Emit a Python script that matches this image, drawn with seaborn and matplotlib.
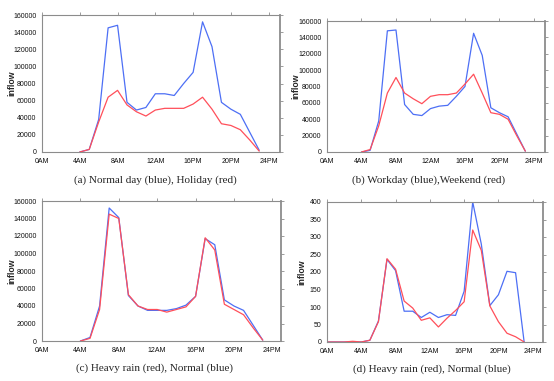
import numpy as np
import pandas as pd
import matplotlib
matplotlib.use("Agg")
import matplotlib.pyplot as plt
import seaborn as sns

hours_abc = list(range(4, 24))
hours_d = list(range(0, 24))

a_blue = [0, 3000, 38000, 145000, 148000, 58000, 49000, 52000, 68000, 68000,
          66000, 80000, 93000, 152000, 123000, 58000, 50000, 44000, 23000, 2000]
a_red = [0, 3000, 35000, 64000, 72000, 55000, 47000, 42000, 49000, 51000,
         51000, 51000, 56000, 64000, 50000, 33000, 31000, 26000, 14000, 1000]

b_blue = [0, 2000, 38000, 148000, 149000, 58000, 46000, 44500, 53000, 56000,
          57000, 68000, 80000, 145000, 118000, 54000, 48000, 43000, 22000, 1000]
b_red = [0, 3000, 32000, 72000, 91000, 72000, 65000, 59000, 68000, 70000,
         70000, 72000, 83000, 95000, 72000, 48000, 46000, 40000, 20000, 1000]

c_blue = [0, 4000, 40000, 152000, 141000, 52000, 40000, 35000, 35000, 35000,
          37000, 41000, 51000, 117000, 110000, 47000, 40000, 35000, 18000, 1000]
c_red = [0, 3000, 36000, 145000, 140000, 53000, 40000, 36000, 36000, 33000,
         36000, 39000, 51000, 118000, 104000, 42000, 36000, 30000, 15000, 1000]

d_blue = [0, 0, 0, 0, 0, 5, 60, 236, 204, 88, 88, 70,
          85, 70, 78, 76, 145, 400, 280, 104, 135, 202, 198, 0]
d_red = [0, 0, 0, 2, 0, 5, 58, 238, 208, 117, 97, 62,
         69, 43, 68, 90, 115, 320, 262, 103, 58, 25, 15, 0]

xtick_pos = [0, 4, 8, 12, 16, 20, 24]
xtick_labels = ["0AM", "4AM", "8AM", "12AM", "16PM", "20PM", "24PM"]

captions = ["(a) Normal day (blue), Holiday (red)",
            "(b) Workday (blue),Weekend (red)",
            "(c) Heavy rain (red), Normal (blue)",
            "(d) Heavy rain (red), Normal (blue)"]

sns.set_style("white")
plt.rcParams['font.family'] = ['Liberation Sans', 'DejaVu Sans']

W, H = 554, 381
fig = plt.figure(figsize=(W / 100, H / 100), dpi=100)

BLUE = "#4d6ff5"
RED = "#ff4f5a"
GRAY = "#8c8c8c"

# (left, right, top, bottom) in pixels
boxes = [(42, 280, 15, 152), (327, 545, 21, 152),
         (42, 281, 201, 341), (327, 543, 202, 342)]
xmax = [25.2, 25.28, 24.9, 25.2]
panels = [(hours_abc, a_blue, a_red, 160000, 20000),
          (hours_abc, b_blue, b_red, 160000, 20000),
          (hours_abc, c_blue, c_red, 160000, 20000),
          (hours_d, d_blue, d_red, 400, 50)]
cap_pos = [(155, 180), (429, 180), (155, 368), (432, 369)]
ylab_x = [12, 296, 12, 302]

for i, (box, (hrs, blue, red, ymax, ystep)) in enumerate(zip(boxes, panels)):
    l, r, t, b = box
    ax = fig.add_axes([l / W, 1 - b / H, (r - l) / W, (b - t) / H])
    df = pd.DataFrame({"hour": hrs * 2,
                       "inflow": blue + red,
                       "series": ["blue"] * len(hrs) + ["red"] * len(hrs)})
    sns.lineplot(data=df, x="hour", y="inflow", hue="series",
                 palette={"blue": BLUE, "red": RED}, linewidth=0.9,
                 legend=False, ax=ax)
    ax.set_xlim(0, xmax[i])
    ax.set_ylim(0, ymax)
    ax.set_xticks(xtick_pos)
    ax.set_xticklabels(xtick_labels)
    ax.set_yticks(np.arange(0, ymax + 1, ystep))
    ax.tick_params(axis="both", direction="out", length=2.5, width=0.6,
                   color=GRAY, labelsize=5.0, pad=1.5, labelcolor="#111111",
                   top=True, right=True, labeltop=False, labelright=False)
    for s in ax.spines.values():
        s.set_color(GRAY)
        s.set_linewidth(0.8)
        s.set_visible(True)
    ax.spines["right"].set_linewidth(1.3)
    ax.set_xlabel("")
    ax.set_ylabel("")
    fig.text(ylab_x[i] / W, 1 - ((t + b) / 2) / H, "inflow", rotation=90,
             ha="center", va="center", fontsize=6.3, fontweight="bold")
    cx, cy = cap_pos[i]
    fig.text(cx / W, 1 - cy / H, captions[i], ha="center", va="center",
             fontsize=8.0, family=["Liberation Serif", "DejaVu Serif"])

fig.savefig("out.png", dpi=100)
